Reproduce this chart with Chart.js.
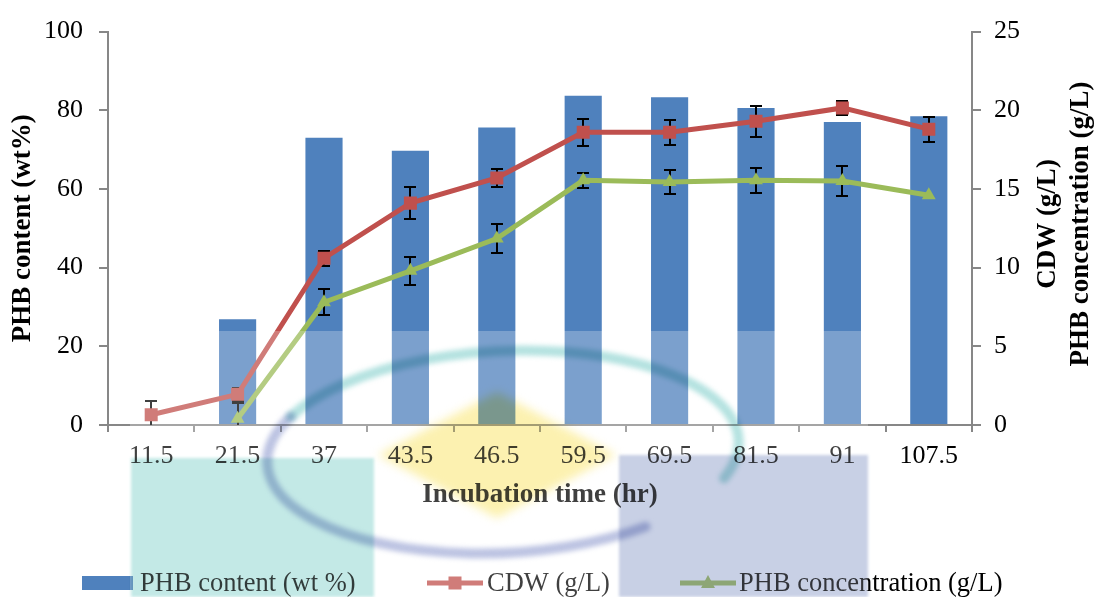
<!DOCTYPE html>
<html>
<head>
<meta charset="utf-8">
<script src="https://cdn.jsdelivr.net/npm/chart.js@4.4.1/dist/chart.umd.min.js"></script>
<style>
  html, body { margin: 0; padding: 0; background: #ffffff; }
  canvas { display: block; }
</style>
</head>
<body>
<canvas id="chart" width="1094" height="597"></canvas>
<script>
// Incubation time points (hr)
const categories = ['11.5', '21.5', '37', '43.5', '46.5', '59.5', '69.5', '81.5', '91', '107.5'];

// PHB content (wt %), left axis
const phbContent = [null, 26.9, 73.0, 69.7, 75.6, 83.7, 83.3, 80.6, 77.0, 78.5];

// Cell dry weight (g/L), right axis, with standard deviations
const cdw    = [0.65, 1.95, 10.6, 14.1, 15.7, 18.6, 18.6, 19.3, 20.15, 18.8];
const cdwErr = [0.9, 0.4, 0.47, 1.0, 0.6, 0.85, 0.8, 0.98, 0.44, 0.8];

// PHB concentration (g/L), right axis, with standard deviations
const phbConc    = [null, 0.4, 7.8, 9.8, 11.85, 15.55, 15.45, 15.55, 15.5, 14.6];
const phbConcErr = [null, 1.0, 0.82, 0.88, 0.95, 0.47, 0.75, 0.78, 0.95, null];

// Axis ranges
const leftAxis  = { min: 0, max: 100, step: 20 };
const rightAxis = { min: 0, max: 25, step: 5 };

const SERIF = '"Liberation Serif", "Times New Roman", serif';
const AXIS_GREY = '#878787';
const BLUE = '#4F81BD', RED = '#C0504D', GREEN = '#9BBB59';

// Vertical error bars for the two line series, painted right after the bars
// so that the lines and their markers sit on top of them.
const errorBarPlugin = {
  id: 'errorBars',
  afterDatasetDraw(chart, args) {
    if (args.index !== 0) return;
    const { ctx, chartArea } = chart;
    const yScale = chart.scales.y1;
    const sets = [
      { idx: 1, values: cdw, errs: cdwErr },
      { idx: 2, values: phbConc, errs: phbConcErr }
    ];
    ctx.save();
    ctx.beginPath();
    ctx.rect(chartArea.left, chartArea.top - 2, chartArea.right - chartArea.left, chartArea.bottom - chartArea.top + 2);
    ctx.clip();
    ctx.strokeStyle = '#000000';
    ctx.lineWidth = 2;
    sets.forEach(s => {
      const meta = chart.getDatasetMeta(s.idx);
      s.values.forEach((v, i) => {
        const e = s.errs[i];
        if (v == null || e == null) return;
        const x = Math.round(meta.data[i].x);
        const yTop = Math.round(yScale.getPixelForValue(v + e));
        const yBot = Math.round(yScale.getPixelForValue(v - e));
        ctx.beginPath();
        ctx.moveTo(x, yTop); ctx.lineTo(x, yBot);
        ctx.moveTo(x - 6, yTop); ctx.lineTo(x + 6, yTop);
        ctx.moveTo(x - 6, yBot); ctx.lineTo(x + 6, yBot);
        ctx.stroke();
      });
    });
    ctx.restore();
  }
};

// Legend row, right-hand axis titles and the faint emblem printed over the lower part.
const decorPlugin = {
  id: 'decor',
  afterDatasetsDraw(chart) {
    const { ctx } = chart;
    const ds = chart.data.datasets;

    // legend
    ctx.save();
    ctx.font = '26.5px ' + SERIF;
    ctx.textBaseline = 'alphabetic';
    ctx.textAlign = 'left';
    const ly = 583, base = 591;
    ctx.fillStyle = ds[0].backgroundColor;
    ctx.fillRect(82, 576, 51, 14);
    ctx.fillStyle = '#000';
    ctx.fillText(ds[0].label, 140, base);

    ctx.strokeStyle = ds[1].borderColor;
    ctx.lineWidth = 5;
    ctx.beginPath(); ctx.moveTo(427, ly); ctx.lineTo(483, ly); ctx.stroke();
    ctx.fillStyle = ds[1].borderColor;
    ctx.fillRect(455 - 6.5, ly - 6.5, 13, 13);
    ctx.fillStyle = '#000';
    ctx.fillText(ds[1].label, 487, base);

    ctx.strokeStyle = ds[2].borderColor;
    ctx.beginPath(); ctx.moveTo(680, ly); ctx.lineTo(736, ly); ctx.stroke();
    ctx.fillStyle = ds[2].borderColor;
    ctx.beginPath();
    ctx.moveTo(708, ly - 8); ctx.lineTo(715, ly + 5); ctx.lineTo(701, ly + 5); ctx.closePath();
    ctx.fill();
    ctx.fillStyle = '#000';
    ctx.fillText(ds[2].label, 739, base);
    ctx.restore();

    // right axis titles, reading upwards
    ctx.save();
    ctx.font = 'bold 27px ' + SERIF;
    ctx.fillStyle = '#000';
    ctx.textAlign = 'center';
    ctx.textBaseline = 'middle';
    [['CDW (g/L)', 1048], ['PHB concentration (g/L)', 1081]].forEach(([t, x]) => {
      ctx.save();
      ctx.translate(x, 224);
      ctx.rotate(-Math.PI / 2);
      ctx.fillText(t, 0, 0);
      ctx.restore();
    });
    ctx.restore();

    // emblem: light veil plus soft coloured shapes
    ctx.save();
    ctx.fillStyle = 'rgba(255,255,255,0.25)';
    ctx.fillRect(130, 331, 738, 266);

    ctx.globalCompositeOperation = 'multiply';
    ctx.filter = 'blur(1.5px)';
    ctx.fillStyle = '#C3E9E6';
    ctx.fillRect(131, 458, 243, 139);
    ctx.fillStyle = '#C8D0E5';
    ctx.fillRect(619, 455, 249, 142);

    ctx.filter = 'blur(5px)';
    ctx.fillStyle = '#FCF1B0';
    ctx.beginPath();
    ctx.moveTo(378, 455); ctx.lineTo(497, 392); ctx.lineTo(616, 455); ctx.lineTo(497, 518);
    ctx.closePath();
    ctx.fill();

    ctx.filter = 'blur(2.5px)';
    ctx.lineCap = 'round';
    ctx.lineWidth = 10;
    ctx.strokeStyle = '#BCC3E2';
    ctx.beginPath();
    ctx.ellipse(503, 452, 236, 101, -0.05, Math.PI * 0.3, Math.PI * 1.15);
    ctx.stroke();
    ctx.strokeStyle = '#B4E2E0';
    ctx.beginPath();
    ctx.ellipse(503, 452, 236, 101, -0.05, Math.PI * 1.15, Math.PI * 2.12);
    ctx.stroke();
    ctx.restore();
  }
};

const tickFont = { family: SERIF, size: 26 };
const titleFont = { family: SERIF, size: 27, weight: 'bold' };

new Chart(document.getElementById('chart'), {
  data: {
    labels: categories,
    datasets: [
      {
        type: 'bar',
        label: 'PHB content (wt %)',
        data: phbContent,
        yAxisID: 'y',
        backgroundColor: BLUE,
        borderWidth: 0,
        barPercentage: 0.43,
        categoryPercentage: 1.0,
        order: 3
      },
      {
        type: 'line',
        label: 'CDW (g/L)',
        data: cdw,
        yAxisID: 'y1',
        borderColor: RED,
        backgroundColor: RED,
        borderWidth: 5,
        pointStyle: 'rect',
        pointRadius: 9.2,
        pointBorderWidth: 0,
        tension: 0,
        order: 1
      },
      {
        type: 'line',
        label: 'PHB concentration (g/L)',
        data: phbConc,
        yAxisID: 'y1',
        borderColor: GREEN,
        backgroundColor: GREEN,
        borderWidth: 5,
        pointStyle: 'triangle',
        pointRadius: 8,
        pointBorderWidth: 0,
        tension: 0,
        order: 2
      }
    ]
  },
  options: {
    responsive: false,
    animation: false,
    devicePixelRatio: 1,
    layout: { padding: { top: 28, left: 0, right: 0, bottom: 0 } },
    plugins: {
      legend: { display: false },
      tooltip: { enabled: false }
    },
    scales: {
      x: {
        type: 'category',
        offset: true,
        grid: { offset: true, drawOnChartArea: false, drawTicks: true, tickLength: 7, color: AXIS_GREY, lineWidth: 2 },
        border: { display: true, color: AXIS_GREY, width: 2 },
        ticks: { font: tickFont, color: '#000', padding: 9, maxRotation: 0, autoSkip: false },
        title: { display: true, text: 'Incubation time (hr)', font: titleFont, color: '#000', padding: { top: 0, bottom: 86 } },
        afterFit(s) { s.height = 172; }
      },
      y: {
        type: 'linear',
        position: 'left',
        min: leftAxis.min,
        max: leftAxis.max,
        ticks: { stepSize: leftAxis.step, font: tickFont, color: '#000', padding: 16 },
        grid: { drawOnChartArea: false, drawTicks: true, tickLength: 9, color: AXIS_GREY, lineWidth: 2 },
        border: { display: true, color: AXIS_GREY, width: 2 },
        title: { display: true, text: 'PHB content (wt%)', font: titleFont, color: '#000', padding: { top: 7, bottom: 0 } },
        afterFit(s) { s.width = 108; }
      },
      y1: {
        type: 'linear',
        position: 'right',
        min: rightAxis.min,
        max: rightAxis.max,
        ticks: { stepSize: rightAxis.step, font: tickFont, color: '#000', padding: 13 },
        grid: { drawOnChartArea: false, drawTicks: true, tickLength: 9, color: AXIS_GREY, lineWidth: 2 },
        border: { display: true, color: AXIS_GREY, width: 2 },
        afterFit(s) { s.width = 122; }
      }
    }
  },
  plugins: [errorBarPlugin, decorPlugin]
});
</script>
</body>
</html>
